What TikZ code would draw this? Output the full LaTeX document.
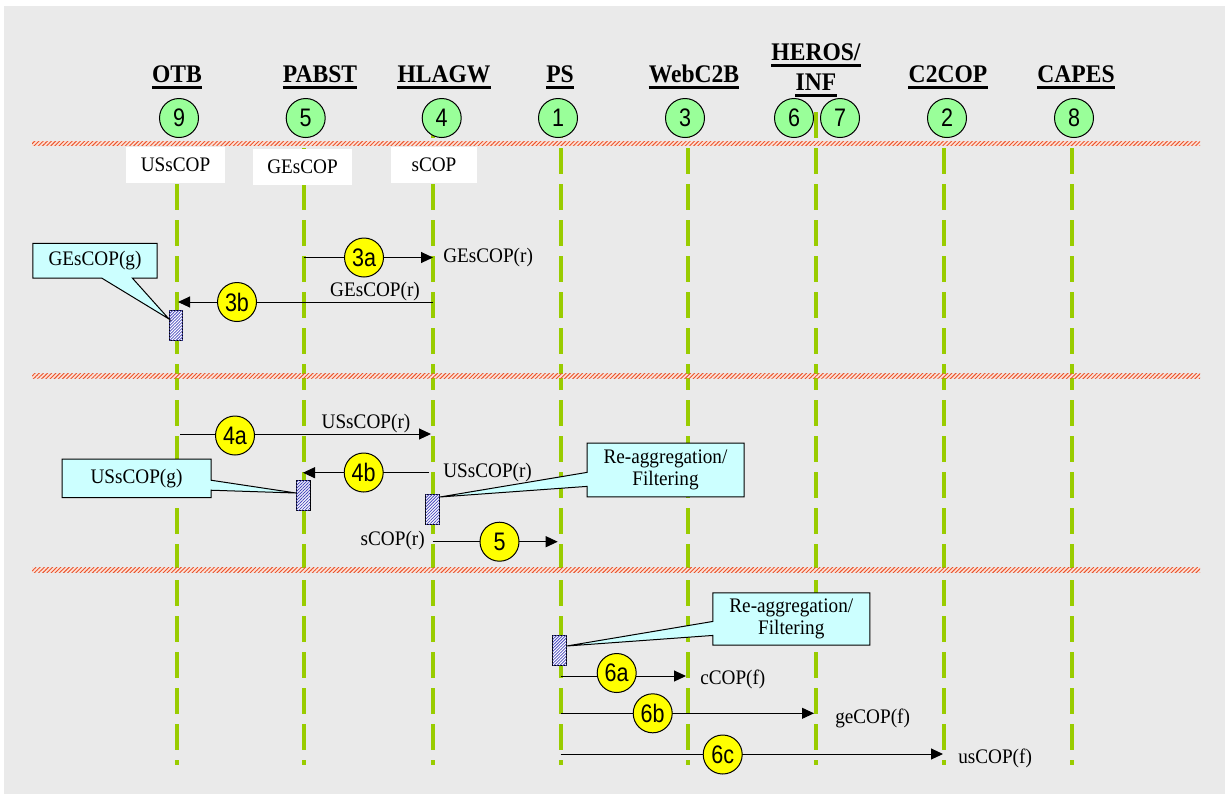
\documentclass[tikz,border=0pt]{standalone}
\usepackage{fontspec}
\setmainfont[FakeStretch=0.93]{Liberation Serif}
\newfontfamily\numfont[FakeStretch=0.85]{Liberation Sans}
\usetikzlibrary{arrows.meta,shapes.callouts,patterns.meta}
\definecolor{bg}{RGB}{234,234,234}
\definecolor{life}{RGB}{153,204,0}
\definecolor{grn}{RGB}{153,255,153}
\definecolor{yel}{RGB}{255,255,0}
\definecolor{cyanbox}{RGB}{204,255,255}
\definecolor{sepred}{RGB}{235,85,45}
\definecolor{seplight}{RGB}{252,225,215}
\definecolor{hatch}{RGB}{70,70,190}
\tikzset{
  hdr/.style={font=\fontsize{19}{21}\selectfont\bfseries, inner sep=0pt, anchor=base},
  lbl/.style={font=\fontsize{15.5}{16.5}\selectfont, inner sep=0pt},
  numc/.style={circle, draw=black, line width=0.75pt, minimum size=29.25pt, inner sep=0pt,
    font=\numfont\fontsize{19}{20}\selectfont},
  gcirc/.style={numc, fill=grn},
  ycirc/.style={numc, fill=yel},
  lifeline/.style={draw=life, line width=3pt, dash pattern=on 19.5pt off 7.5pt},
  msg/.style={draw=black, line width=0.75pt, -{Triangle[length=9pt,width=8.25pt]}},
  actbox/.style={draw=black, line width=0.75pt, fill=white, minimum width=10.5pt,
    minimum height=22.5pt, inner sep=0pt,
    postaction={pattern={Lines[angle=45,distance=1.6pt,line width=0.6pt]}, pattern color=hatch}},
  callbox/.style={rectangle callout, draw=black, line width=0.75pt, fill=cyanbox,
    inner sep=0pt, align=center, font=\fontsize{15.5}{16.5}\selectfont},
  wbox/.style={fill=white, inner sep=0pt, minimum height=27pt, font=\fontsize{15.5}{16.5}\selectfont},
  sepline/.style={fill=seplight, postaction={pattern={Lines[angle=45,distance=2.2pt,line width=0.7pt]}, pattern color=sepred}},
}
\begin{document}
\begin{tikzpicture}[x=0.75pt,y=-0.75pt]
\useasboundingbox (0,0) rectangle (1225,794);
\fill[bg] (4,6) rectangle (1225,794);

% lifelines
\foreach \n/\x in {L9/176.5,L5/304,L4/432.5,L1/560.5,L3/688,L6/816,L2/943.5,L8/1072}{
  \coordinate (\n t) at (\x,112);
  \coordinate (\n b) at (\x,765);
}
\foreach \n in {L9,L5,L4,L1,L3,L6,L2,L8}{
  \draw[lifeline] (\n t) -- (\n b);
}

% separators
\fill[sepline] (32,141.2) rectangle (1200,145.5);
\fill[sepline] (32,373.9) rectangle (1200,378.2);
\fill[sepline] (32,567.9) rectangle (1200,572.2);

% white label boxes
\node[wbox, minimum width=74.25pt] (w9) at (175.5,164.7) {USsCOP};
\node[wbox, minimum width=74.25pt] (w5) at (302.5,167) {GEsCOP};
\node[wbox, minimum width=64.5pt] (w4) at (434,165) {sCOP};

% headers
\node[hdr] (hOTB) at (177,82.7) {OTB};
\node[hdr] (hPABST) at (320,82.7) {PABST};
\node[hdr] (hHLAGW) at (444,82.7) {HLAGW};
\node[hdr] (hPS) at (560,82.7) {PS};
\node[hdr] (hWeb) at (694,82.7) {WebC2B};
\node[hdr] (hHER) at (816,60) {HEROS/};
\node[hdr] (hINF) at (816,90.5) {INF};
\node[hdr] (hC2) at (948,82.7) {C2COP};
\node[hdr] (hCAP) at (1076,82.7) {CAPES};
\foreach \h in {hOTB,hPABST,hHLAGW,hPS,hWeb,hHER,hINF,hC2,hCAP}{
  \draw[line width=2.25pt] ([yshift=-3.8pt]\h.base west) -- ([yshift=-3.8pt]\h.base east);
}

% green circles
\node[gcirc] (g9) at (179,118) {9};
\node[gcirc] (g5) at (305.7,118) {5};
\node[gcirc] (g4) at (441.7,118) {4};
\node[gcirc] (g1) at (558,118) {1};
\node[gcirc] (g3) at (685,118) {3};
\node[gcirc] (g6) at (794,118) {6};
\node[gcirc] (g7) at (840,118) {7};
\node[gcirc] (g2) at (947,118) {2};
\node[gcirc] (g8) at (1074,118) {8};

% message endpoints
\coordinate (m3as) at (304,257.5);   \coordinate (m3ae) at (433,257.5);
\coordinate (m3bs) at (432.5,302);   \coordinate (m3be) at (178,302);
\coordinate (m4as) at (180,434);     \coordinate (m4ae) at (431,434);
\coordinate (m4bs) at (429,472.7);   \coordinate (m4be) at (303,472.7);
\coordinate (m5s) at (432.6,541.7);  \coordinate (m5e) at (557.7,541.7);
\coordinate (m6as) at (560.5,676);   \coordinate (m6ae) at (686,676);
\coordinate (m6bs) at (560.7,713.3); \coordinate (m6be) at (814,713.3);
\coordinate (m6cs) at (560.5,754);   \coordinate (m6ce) at (943,754);

\draw[msg] (m3as) -- (m3ae);
\draw[msg] (m3bs) -- (m3be);
\draw[msg] (m4as) -- (m4ae);
\draw[msg] (m4bs) -- (m4be);
\draw[msg] (m5s) -- (m5e);
\draw[msg] (m6as) -- (m6ae);
\draw[msg] (m6bs) -- (m6be);
\draw[msg] (m6cs) -- (m6ce);

% yellow circles
\node[ycirc] (y3a) at (364,257.5) {3a};
\node[ycirc] (y3b) at (237,302) {3b};
\node[ycirc] (y4a) at (235,435.5) {4a};
\node[ycirc] (y4b) at (363.7,472.5) {4b};
\node[ycirc] (y5) at (499.5,541.7) {5};
\node[ycirc] (y6a) at (616.7,673) {6a};
\node[ycirc] (y6b) at (652.7,713.3) {6b};
\node[ycirc] (y6c) at (722.7,754.5) {6c};

% message labels
\node[lbl, anchor=west] (t3a) at (443,257.5) {GEsCOP(r)};
\node[lbl, anchor=base] (t3b) at (375,296.7) {GEsCOP(r)};
\node[lbl, anchor=base] (t4a) at (366,428) {USsCOP(r)};
\node[lbl, anchor=west] (t4b) at (443,473) {USsCOP(r)};
\node[lbl, anchor=east] (t5) at (425,541) {sCOP(r)};
\node[lbl, anchor=west] (t6a) at (700,679) {cCOP(f)};
\node[lbl, anchor=west] (t6b) at (835,718) {geCOP(f)};
\node[lbl, anchor=west] (t6c) at (958,758) {usCOP(f)};

% activation boxes
\node[actbox, minimum width=10.3pt, minimum height=22pt] (aO) at (175.9,325.4) {};
\node[actbox] (aP) at (303,495.7) {};
\node[actbox] (aH) at (432.7,509) {};
\node[actbox] (aS) at (559.7,650) {};

% callouts
\node[callbox, minimum width=93.2pt, minimum height=26pt,
  callout absolute pointer={(169,319)}, callout pointer width=23pt] (cG) at (95,260.7) {GEsCOP(g)};
\node[callbox, minimum width=111.75pt, minimum height=29pt,
  callout absolute pointer={(296,493)}, callout pointer width=7.5pt] (cU) at (136.5,478.4) {USsCOP(g)};
\node[callbox, minimum width=117.75pt, minimum height=40.3pt,
  callout absolute pointer={(439.8,497)}, callout pointer width=10.5pt] (cR1) at (665.5,470) {Re-aggregation/\\Filtering};
\node[callbox, minimum width=117.75pt, minimum height=39.2pt,
  callout absolute pointer={(566.7,646)}, callout pointer width=10.5pt] (cR2) at (791.3,619) {Re-aggregation/\\Filtering};
\end{tikzpicture}
\end{document}
